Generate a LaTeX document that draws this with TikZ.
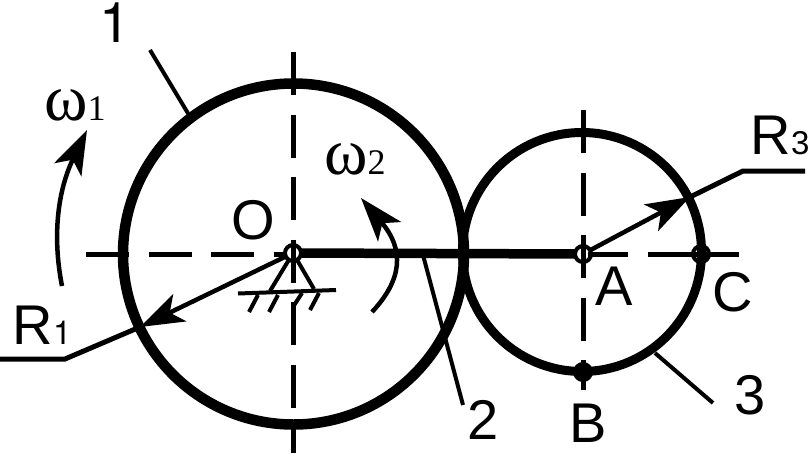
\documentclass[tikz,border=0pt]{standalone}
\usepackage{fontspec}
\setmainfont{Liberation Sans}
\newfontfamily\greekfont{Liberation Serif}
\newfontfamily\onefont{TeX Gyre Heros}
\usetikzlibrary{arrows.meta}
\tikzset{
wheel/.style = {circle, draw=black, line width=10.5pt, minimum size=#1,
                inner sep=0pt, outer sep=0pt},
wheel/.default = 100pt % diameter of the wheel
}
\tikzset{
hinge/.style = {circle, draw=black, line width=4pt, minimum size=16pt,
                inner sep=0pt, outer sep=0pt}
}
\tikzset{
lab/.style = {inner sep=0pt, font=\fontsize{56}{56}\selectfont},
omegalab/.style = {inner sep=0pt, font=\greekfont\fontsize{66}{66}\selectfont},
axisline/.style = {line width=5pt, dash pattern=on 43pt off 19.5pt},
leader/.style = {line width=4pt},
hatch/.style = {line width=4pt},
bigarrow/.style = {line width=4.5pt, -{Stealth[length=44pt,width=30pt,inset=11pt]}}
}
\newcommand{\subnum}[1]{{\fontsize{33}{33}\selectfont #1}}
\newcommand{\subser}[1]{{\fontsize{36}{36}\selectfont #1}}

\begin{document}
\begin{tikzpicture}[x=1pt,y=-1pt]
    \useasboundingbox (0,0) rectangle (808,453);
    \node[wheel=341pt] (wheel1) at (293.5,254) {};
    \node[wheel=239pt, line width=9pt] (wheel3) at (582,252) {};
    \node[hinge] (pinO) at (293,253) {};
    \node[hinge] (pinA) at (583,254) {};
    \node[hinge] (pinC) at (701,254) {};
    \node[hinge, fill=black] (pinB) at (583,372) {};

    % center lines
    \coordinate (axisW) at (86,254);
    \coordinate (axisE) at (286,254);
    \coordinate (axisN) at (293.5,52);
    \coordinate (axisS) at (293.5,453);
    \coordinate (axisAE) at (588,254);
    \coordinate (axisAEE) at (739,254);
    \coordinate (axisAN) at (583,110);
    \coordinate (axisAS) at (583,390);
    \draw[axisline] (axisW) -- (axisE);
    \draw[axisline] (axisN) -- (axisS);
    \draw[axisline] (axisAN) -- (axisAS);
    \draw[line width=5pt] (axisAE) -- (628,254);
    \draw[line width=5pt] (648,254) -- (axisAEE);

    % arm 2
    \draw[line width=9.5pt] (pinO) -- (pinA);

    % support
    \coordinate (baseL) at (238,293.5);
    \coordinate (baseR) at (336,290);
    \coordinate (footL) at (270,291);
    \coordinate (footR) at (314,289);
    \draw[hatch] (baseL) -- (baseR);
    \draw[hatch] (footL) -- (pinO);
    \draw[hatch] (footR) -- (pinO);
    \foreach \x/\y/\u/\v in {258/295/249/312, 278/295/269/312, 302/293/293/307, 319/293/310/310}
        \draw[hatch] (\x,\y) -- (\u,\v);

    % radius arrows
    \coordinate (tipR1) at (140,327);
    \coordinate (kneeR1) at (65,359);
    \coordinate (endR1) at (0,359);
    \coordinate (tipR3) at (690,197);
    \coordinate (kneeR3) at (743,171);
    \coordinate (endR3) at (805,171);
    \draw[bigarrow] (pinO) -- (tipR1);
    \draw[leader, line width=5pt] (tipR1) -- (kneeR1) -- (endR1);
    \draw[bigarrow] (pinA) -- (tipR3);
    \draw[leader, line width=5pt] (tipR3) -- (kneeR3) -- (endR3);

    % rotation arrows
    \coordinate (startW1) at (62,286);
    \coordinate (tipW1) at (87,130);
    \coordinate (startW2) at (372,312);
    \coordinate (tipW2) at (361,198);
    \draw[bigarrow] (startW1) .. controls (52,235) and (58,190) .. (tipW1);
    \draw[bigarrow] (startW2) .. controls (402,280) and (405,250) .. (tipW2);

    % leaders
    \coordinate (lead1a) at (150,50);
    \coordinate (lead1b) at (189,115);
    \coordinate (lead2a) at (423,255);
    \coordinate (lead2b) at (463,405);
    \coordinate (lead3a) at (655,353);
    \coordinate (lead3b) at (713,403);
    \draw[leader] (lead1a) -- (lead1b);
    \draw[leader] (lead2a) -- (lead2b);
    \draw[leader] (lead3a) -- (lead3b);

    % labels
    \node[lab, font=\onefont\fontsize{56}{56}\selectfont] (lab1) at (115,23) {1};
    \node[lab] (lab2) at (483,420) {2};
    \node[lab] (lab3) at (750,395) {3};
    \node[lab] (labO) at (253,220) {O};
    \node[lab] (labA) at (614,286) {A};
    \node[lab] (labB) at (588,423) {B};
    \node[lab] (labC) at (733,292) {C};
    \node[lab] (labR1) at (42,325) {R\subnum{\onefont 1}};
    \node[lab] (labR3) at (780,135) {R\subnum{3}};
    \node[omegalab] (labW1) at (75,105) {ω\subser{1}};
    \node[omegalab] (labW2) at (355,159) {ω\subser{2}};
\end{tikzpicture}
\end{document}
